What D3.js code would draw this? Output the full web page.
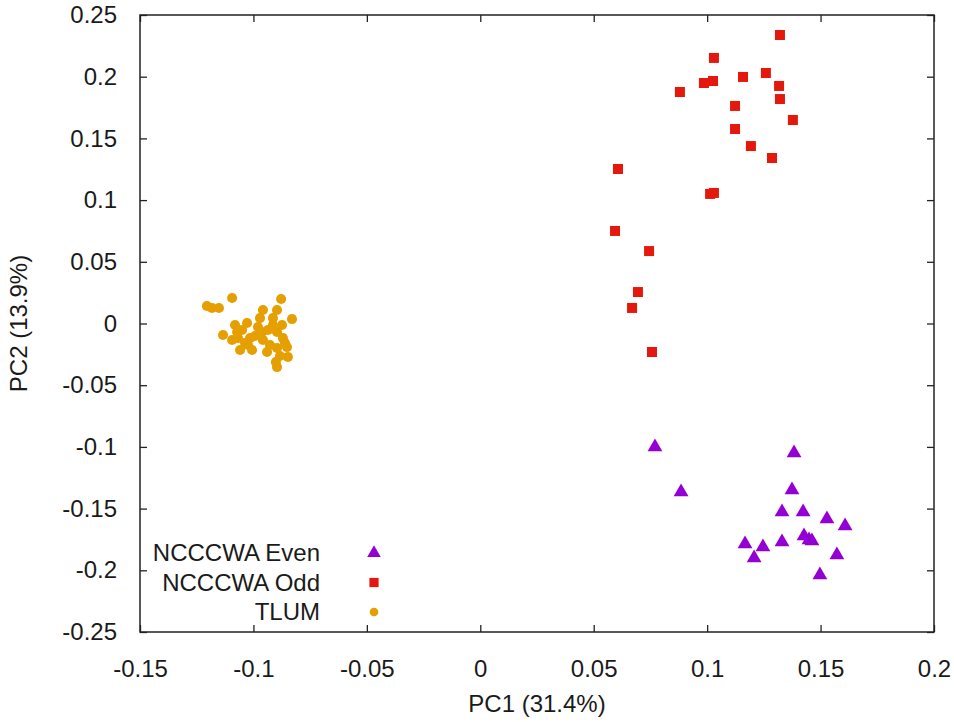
<!DOCTYPE html>
<html>
<head>
<meta charset="utf-8">
<script src="https://cdn.jsdelivr.net/npm/d3@7"></script>
<style>
  body { margin: 0; background: #fff; }
  text { font-family: "Liberation Sans", Arial, sans-serif; fill: #1a1a1a; }
</style>
</head>
<body>
<div id="chart"></div>
<script>
(function() {
  var width = 954, height = 722;
  var margin = {left: 140, right: 20, top: 15, bottom: 90};

  var xTicks = [-0.15, -0.1, -0.05, 0, 0.05, 0.1, 0.15, 0.2];
  var yTicks = [-0.25, -0.2, -0.15, -0.1, -0.05, 0, 0.05, 0.1, 0.15, 0.2, 0.25];

  var seriesNames = ["NCCCWA Even", "NCCCWA Odd", "TLUM"];
  var seriesColors = ["#9400d3", "#e5180e", "#e69f00"];

  // NCCCWA Even (triangles)
  var evenX = [0.0770, 0.1383, 0.0885, 0.1374, 0.1330, 0.1423, 0.1528, 0.1608, 0.1427, 0.1449, 0.1462, 0.1167, 0.1330, 0.1246, 0.1207, 0.1572, 0.1497];
  var evenY = [-0.1001, -0.1050, -0.1366, -0.1349, -0.1528, -0.1528, -0.1584, -0.1641, -0.1722, -0.1755, -0.1763, -0.1787, -0.1771, -0.1811, -0.1900, -0.1876, -0.2038];

  // NCCCWA Odd (squares)
  var oddX = [0.1321, 0.1030, 0.1158, 0.1259, 0.0986, 0.1026, 0.1317, 0.0880, 0.1321, 0.1123, 0.1378, 0.1123, 0.1193, 0.1286, 0.0607, 0.1013, 0.1030, 0.0594, 0.0744, 0.0695, 0.0669, 0.0757];
  var oddY = [0.2338, 0.2152, 0.1998, 0.2030, 0.1949, 0.1965, 0.1925, 0.1876, 0.1819, 0.1763, 0.1649, 0.1576, 0.1438, 0.1341, 0.1252, 0.1050, 0.1058, 0.0750, 0.0587, 0.0255, 0.0126, -0.0231];

  // TLUM (dots)
  var tlumX = [-0.1205, -0.1183, -0.1152, -0.1094, -0.0878, -0.0896, -0.0958, -0.0830, -0.0971, -0.1134,
               -0.1081, -0.1028, -0.1068, -0.1072, -0.1037, -0.1006, -0.0962, -0.0980, -0.0958, -0.0914,
               -0.0896, -0.0927, -0.0896, -0.0870, -0.0852, -0.0883, -0.0848, -0.0901, -0.0896, -0.1015,
               -0.1059, -0.0874, -0.0940, -0.1050, -0.0993, -0.1024, -0.0936, -0.0914, -0.0861, -0.1094];
  var tlumY = [0.0142, 0.0126, 0.0126, 0.0207, 0.0199, 0.0109, 0.0109, 0.0036, 0.0044, -0.0093,
               -0.0012, 0.0004, -0.0118, -0.0069, -0.0158, -0.0215, -0.0069, -0.0028, -0.0134, -0.0012,
               -0.0069, -0.0174, -0.0199, -0.0118, -0.0191, -0.0263, -0.0271, -0.0312, -0.0353, -0.0118,
               -0.0215, -0.0012, -0.0231, -0.0053, -0.0101, -0.0174, -0.0053, 0.0044, -0.0158, -0.0134];

  var zip = function(xs, ys) {
    return xs.map(function(v, i) { return {x: v, y: ys[i]}; });
  };

  var series = [
    {name: seriesNames[0], color: seriesColors[0], shape: d3.symbolTriangle, size: 95, legendSize: 80, points: zip(evenX, evenY)},
    {name: seriesNames[1], color: seriesColors[1], shape: d3.symbolSquare, size: 100, legendSize: 85, points: zip(oddX, oddY)},
    {name: seriesNames[2], color: seriesColors[2], shape: d3.symbolCircle, size: 80, legendSize: 60, points: zip(tlumX, tlumY)}
  ];

  var x = d3.scaleLinear().domain([-0.15, 0.2]).range([margin.left, width - margin.right]);
  var y = d3.scaleLinear().domain([-0.25, 0.25]).range([height - margin.bottom, margin.top]);

  var svg = d3.select("#chart").append("svg")
    .attr("width", width).attr("height", height);

  // plain hyphen for negatives, like the original
  var fmt = function(d) { return String(+d.toFixed(2)); };

  // axes with inward ticks, mirrored on top and right
  var gx = svg.append("g").attr("transform", "translate(0," + y.range()[0] + ")")
    .call(d3.axisBottom(x).tickValues(xTicks).tickFormat(fmt).tickSizeInner(-7).tickSizeOuter(0).tickPadding(28));
  var gxTop = svg.append("g").attr("transform", "translate(0," + y.range()[1] + ")")
    .call(d3.axisTop(x).tickValues(xTicks).tickFormat("").tickSizeInner(-7).tickSizeOuter(0));
  var gy = svg.append("g").attr("transform", "translate(" + x.range()[0] + ",0)")
    .call(d3.axisLeft(y).tickValues(yTicks).tickFormat(fmt).tickSizeInner(-7).tickSizeOuter(0).tickPadding(23));
  var gyRight = svg.append("g").attr("transform", "translate(" + x.range()[1] + ",0)")
    .call(d3.axisRight(y).tickValues(yTicks).tickFormat("").tickSizeInner(-7).tickSizeOuter(0));

  [gx, gxTop, gy, gyRight].forEach(function(g) {
    g.select(".domain").remove();
    g.selectAll(".tick line").attr("stroke", "#222").attr("stroke-width", 1.3);
    g.selectAll(".tick text").style("font-size", "24px").attr("fill", "#1a1a1a");
  });

  svg.append("rect")
    .attr("x", x.range()[0]).attr("y", y.range()[1])
    .attr("width", x.range()[1] - x.range()[0]).attr("height", y.range()[0] - y.range()[1])
    .attr("fill", "none").attr("stroke", "#222").attr("stroke-width", 1.5);

  // axis titles
  svg.append("text")
    .attr("x", (x.range()[0] + x.range()[1]) / 2).attr("y", 712)
    .attr("text-anchor", "middle").style("font-size", "24px")
    .text("PC1 (31.4%)");
  svg.append("text")
    .attr("transform", "translate(27," + (y.range()[0] + y.range()[1]) / 2 + ") rotate(-90)")
    .attr("text-anchor", "middle").style("font-size", "24px")
    .text("PC2 (13.9%)");

  // points
  series.forEach(function(s) {
    svg.append("g").selectAll("path").data(s.points).enter().append("path")
      .attr("d", d3.symbol().type(s.shape).size(s.size))
      .attr("transform", function(d) { return "translate(" + x(d.x) + "," + y(d.y) + ")"; })
      .attr("fill", s.color);
  });

  // legend
  var legend = svg.append("g").selectAll("g").data(series).enter().append("g")
    .attr("transform", function(d, i) { return "translate(0," + (553 + i * 29.5) + ")"; });
  legend.append("text")
    .attr("x", 320).attr("dy", "0.35em").attr("text-anchor", "end")
    .style("font-size", "24px")
    .text(function(d) { return d.name; });
  legend.append("path")
    .attr("transform", "translate(374,0)")
    .attr("d", function(d) { return d3.symbol().type(d.shape).size(d.legendSize)(); })
    .attr("fill", function(d) { return d.color; });
}).call(this);
</script>
</body>
</html>
